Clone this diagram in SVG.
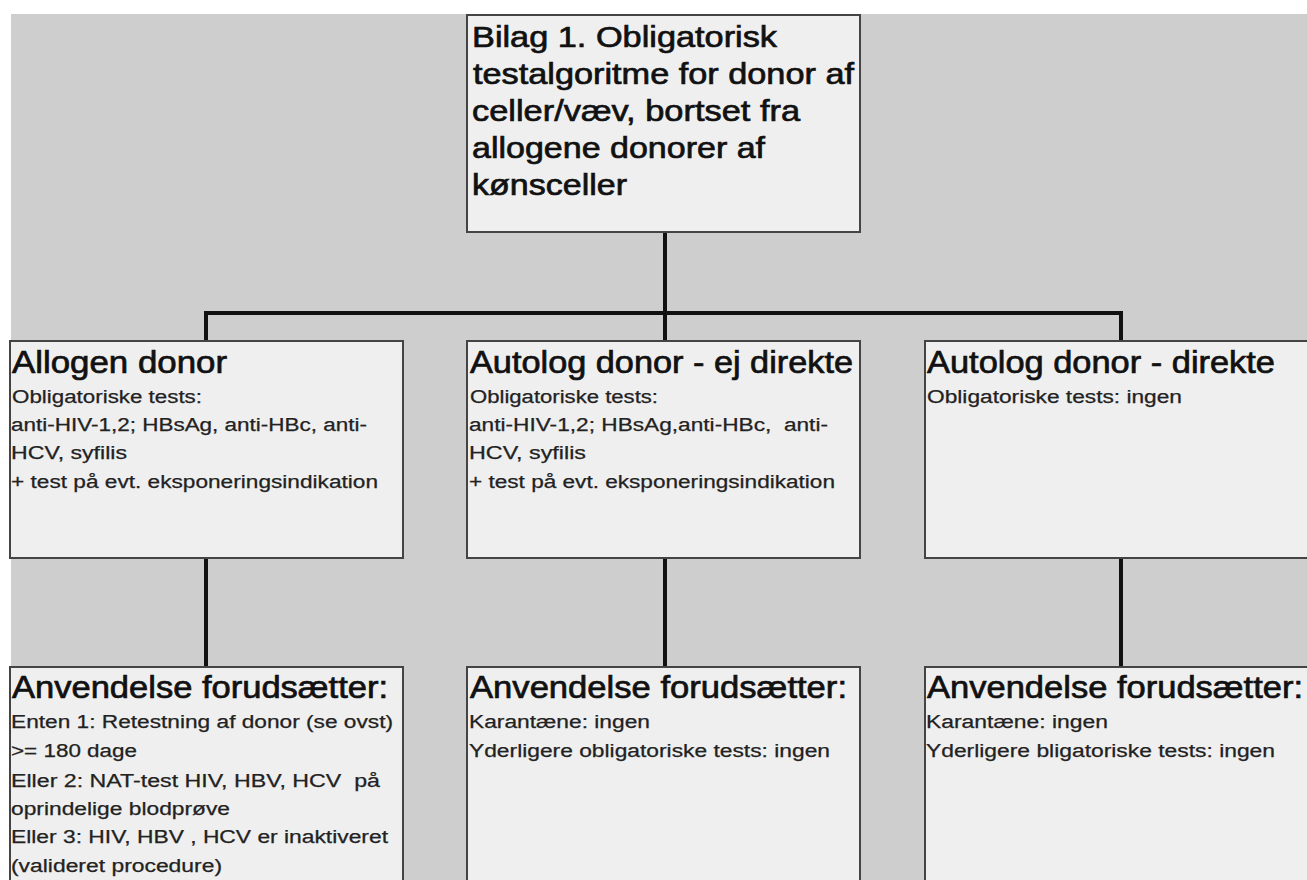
<svg xmlns="http://www.w3.org/2000/svg" width="1307" height="880" viewBox="0 0 1307 880">
<style>
.box{fill:#efefef;stroke:#444;stroke-width:2}
.t{font-family:"Liberation Sans",Arial,sans-serif;fill:#111}
.ti{font-size:30px;stroke:#111;stroke-width:0.7}
.h{font-size:31px;stroke:#111;stroke-width:0.7}
.s{font-size:18px;fill:#222;stroke:#222;stroke-width:0.25}
.c{stroke:#111;stroke-width:4;fill:none}
</style>
<rect width="1307" height="880" fill="#ffffff"/>
<rect x="11" y="14" width="1296" height="866" fill="#cecece"/>
<g id="connectors">
<path class="c" d="M665 232V341M206 341V313H1121V341M206 558V667M665 558V667M1121 558V667"/>
</g>
<g id="title">
<rect class="box" x="467" y="15" width="393" height="217"/>
<text class="t ti" x="472" y="47" textLength="305" lengthAdjust="spacingAndGlyphs">Bilag 1. Obligatorisk</text>
<text class="t ti" x="473" y="84" textLength="381" lengthAdjust="spacingAndGlyphs">testalgoritme for donor af</text>
<text class="t ti" x="472" y="121" textLength="328" lengthAdjust="spacingAndGlyphs">celler/væv, bortset fra</text>
<text class="t ti" x="472" y="158" textLength="293" lengthAdjust="spacingAndGlyphs">allogene donorer af</text>
<text class="t ti" x="472" y="195" textLength="155" lengthAdjust="spacingAndGlyphs">kønsceller</text>
</g>
<g id="allogen">
<rect class="box" x="10" y="341" width="393" height="217"/>
<text class="t h" x="12" y="373" textLength="215" lengthAdjust="spacingAndGlyphs">Allogen donor</text>
<text class="t s" x="12" y="403" textLength="190" lengthAdjust="spacingAndGlyphs">Obligatoriske tests:</text>
<text class="t s" x="11" y="431" textLength="356" lengthAdjust="spacingAndGlyphs">anti-HIV-1,2; HBsAg, anti-HBc, anti-</text>
<text class="t s" x="11" y="459" textLength="116" lengthAdjust="spacingAndGlyphs">HCV, syfilis</text>
<text class="t s" x="11" y="488" textLength="367" lengthAdjust="spacingAndGlyphs">+ test på evt. eksponeringsindikation</text>
</g>
<g id="autolog-ej">
<rect class="box" x="467" y="341" width="393" height="217"/>
<text class="t h" x="470" y="373" textLength="383" lengthAdjust="spacingAndGlyphs">Autolog donor - ej direkte</text>
<text class="t s" x="470" y="403" textLength="188" lengthAdjust="spacingAndGlyphs">Obligatoriske tests:</text>
<text class="t s" x="469" y="431" textLength="359" lengthAdjust="spacingAndGlyphs" xml:space="preserve">anti-HIV-1,2; HBsAg,anti-HBc,  anti-</text>
<text class="t s" x="469" y="459" textLength="117" lengthAdjust="spacingAndGlyphs">HCV, syfilis</text>
<text class="t s" x="469" y="488" textLength="366" lengthAdjust="spacingAndGlyphs">+ test på evt. eksponeringsindikation</text>
</g>
<g id="autolog-direkte">
<rect class="box" x="925" y="341" width="400" height="217"/>
<text class="t h" x="927" y="373" textLength="348" lengthAdjust="spacingAndGlyphs">Autolog donor - direkte</text>
<text class="t s" x="927" y="403" textLength="255" lengthAdjust="spacingAndGlyphs">Obligatoriske tests: ingen</text>
</g>
<g id="anv-allogen">
<rect class="box" x="10" y="667" width="393" height="230"/>
<text class="t h" x="12" y="698" textLength="376" lengthAdjust="spacingAndGlyphs">Anvendelse forudsætter:</text>
<text class="t s" x="11" y="728" textLength="382" lengthAdjust="spacingAndGlyphs">Enten 1: Retestning af donor (se ovst)</text>
<text class="t s" x="11" y="757" textLength="126" lengthAdjust="spacingAndGlyphs">&gt;= 180 dage</text>
<text class="t s" x="11" y="787" textLength="369" lengthAdjust="spacingAndGlyphs" xml:space="preserve">Eller 2: NAT-test HIV, HBV, HCV  på</text>
<text class="t s" x="11" y="815" textLength="219" lengthAdjust="spacingAndGlyphs">oprindelige blodprøve</text>
<text class="t s" x="11" y="843" textLength="377" lengthAdjust="spacingAndGlyphs">Eller 3: HIV, HBV , HCV er inaktiveret</text>
<text class="t s" x="11" y="872" textLength="211" lengthAdjust="spacingAndGlyphs">(valideret procedure)</text>
</g>
<g id="anv-ej">
<rect class="box" x="467" y="667" width="393" height="230"/>
<text class="t h" x="470" y="698" textLength="377" lengthAdjust="spacingAndGlyphs">Anvendelse forudsætter:</text>
<text class="t s" x="469" y="728" textLength="181" lengthAdjust="spacingAndGlyphs">Karantæne: ingen</text>
<text class="t s" x="469" y="757" textLength="361" lengthAdjust="spacingAndGlyphs">Yderligere obligatoriske tests: ingen</text>
</g>
<g id="anv-direkte">
<rect class="box" x="925" y="667" width="400" height="230"/>
<text class="t h" x="927" y="698" textLength="376" lengthAdjust="spacingAndGlyphs">Anvendelse forudsætter:</text>
<text class="t s" x="926" y="728" textLength="182" lengthAdjust="spacingAndGlyphs">Karantæne: ingen</text>
<text class="t s" x="926" y="757" textLength="349" lengthAdjust="spacingAndGlyphs">Yderligere bligatoriske tests: ingen</text>
</g>
</svg>
